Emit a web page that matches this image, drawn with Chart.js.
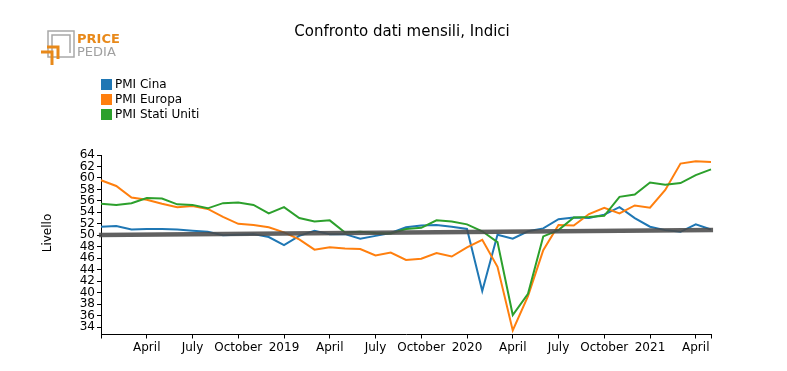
<!DOCTYPE html>
<html>
<head>
<meta charset="utf-8">
<script src="https://cdn.jsdelivr.net/npm/chart.js@4.4.1/dist/chart.umd.min.js"></script>
<style>
  html, body { margin: 0; padding: 0; background: #fff; }
  #wrap { width: 787px; height: 371px; position: relative; }
</style>
</head>
<body>
<div id="wrap"><canvas id="chart"></canvas></div>
<script>
// mesi da gennaio 2018 a maggio 2021
const mesi = [
  '2018-01','2018-02','2018-03','2018-04','2018-05','2018-06','2018-07','2018-08','2018-09','2018-10','2018-11','2018-12',
  '2019-01','2019-02','2019-03','2019-04','2019-05','2019-06','2019-07','2019-08','2019-09','2019-10','2019-11','2019-12',
  '2020-01','2020-02','2020-03','2020-04','2020-05','2020-06','2020-07','2020-08','2020-09','2020-10','2020-11','2020-12',
  '2021-01','2021-02','2021-03','2021-04','2021-05'
];

const pmiCina = [51.5, 51.6, 51.0, 51.1, 51.1, 51.0, 50.8, 50.6, 50.0, 50.1, 50.2, 49.7,
  48.3, 49.9, 50.8, 50.2, 50.2, 49.4, 49.9, 50.4, 51.4, 51.7, 51.8, 51.5,
  51.1, 40.3, 50.1, 49.4, 50.7, 51.2, 52.8, 53.1, 53.0, 53.6, 54.9, 53.0,
  51.5, 50.9, 50.6, 51.9, 51.0];

const pmiEuropa = [59.6, 58.6, 56.6, 56.2, 55.5, 54.9, 55.1, 54.6, 53.2, 52.0, 51.8, 51.4,
  50.5, 49.3, 47.5, 47.9, 47.7, 47.6, 46.5, 47.0, 45.7, 45.9, 46.9, 46.3,
  47.9, 49.2, 44.5, 33.4, 39.4, 47.4, 51.8, 51.7, 53.7, 54.8, 53.8, 55.2,
  54.8, 57.9, 62.5, 62.9, 62.8];

const pmiUsa = [55.5, 55.3, 55.6, 56.5, 56.4, 55.4, 55.3, 54.7, 55.6, 55.7, 55.3, 53.8,
  54.9, 53.0, 52.4, 52.6, 50.5, 50.6, 50.4, 50.3, 51.1, 51.3, 52.6, 52.4,
  51.9, 50.7, 48.8, 36.1, 39.8, 49.8, 50.9, 53.1, 53.2, 53.4, 56.7, 57.1,
  59.2, 58.8, 59.1, 60.5, 61.5];

// linea di tendenza: solo estremi
const trendInizio = 50.05;
const trendFine = 50.9;

const yTicks = [34, 36, 38, 40, 42, 44, 46, 48, 50, 52, 54, 56, 58, 60, 62, 64];
const nomiMesi = { '04': 'April', '07': 'July', '10': 'October' };

const serie = [
  { label: 'PMI Cina', data: pmiCina, color: '#1f77b4' },
  { label: 'PMI Europa', data: pmiEuropa, color: '#ff7f0e' },
  { label: 'PMI Stati Uniti', data: pmiUsa, color: '#2ca02c' }
];

const trendData = mesi.map((m, i) => i === 0 ? trendInizio : (i === mesi.length - 1 ? trendFine : null));

function isTick(i) {
  return i % 3 === 0 || i === mesi.length - 1;
}

Chart.defaults.font.family = "'DejaVu Sans', sans-serif";
Chart.defaults.font.size = 12;
Chart.defaults.color = '#000';

// titolo, logo, legenda e etichetta asse y
const decor = {
  id: 'decor',
  afterDraw(chart) {
    const ctx = chart.ctx;
    ctx.save();

    // titolo
    ctx.fillStyle = '#000';
    ctx.font = "15px 'DejaVu Sans'";
    ctx.textAlign = 'center';
    ctx.textBaseline = 'middle';
    ctx.fillText('Confronto dati mensili, Indici', 402, 32);

    // logo
    ctx.strokeStyle = '#a8a8a8';
    ctx.lineWidth = 1.5;
    ctx.strokeRect(48, 31, 26, 26);
    ctx.beginPath();
    ctx.moveTo(52, 57); ctx.lineTo(52, 35); ctx.lineTo(70, 35); ctx.lineTo(70, 53);
    ctx.stroke();
    ctx.strokeStyle = '#e8891a';
    ctx.lineWidth = 3;
    ctx.beginPath();
    ctx.moveTo(41, 52); ctx.lineTo(52, 52); ctx.lineTo(52, 65);
    ctx.moveTo(47, 47); ctx.lineTo(58, 47); ctx.lineTo(58, 59);
    ctx.stroke();
    ctx.textAlign = 'left';
    ctx.textBaseline = 'alphabetic';
    ctx.fillStyle = '#e8891a';
    ctx.font = "bold 13px 'DejaVu Sans'";
    ctx.fillText('PRICE', 77, 43);
    ctx.fillStyle = '#a0a0a0';
    ctx.font = "13px 'DejaVu Sans'";
    ctx.fillText('PEDIA', 77, 56);

    // legenda
    ctx.font = "12px 'DejaVu Sans'";
    ctx.textBaseline = 'middle';
    serie.forEach((s, i) => {
      const y = 85 + i * 15;
      ctx.fillStyle = s.color;
      ctx.fillRect(101, y - 6, 11, 11);
      ctx.fillStyle = '#000';
      ctx.fillText(s.label, 115, y);
    });

    // etichetta asse y
    ctx.translate(48, 233);
    ctx.rotate(-Math.PI / 2);
    ctx.textAlign = 'center';
    ctx.fillText('Livello', 0, 0);
    ctx.restore();
  }
};

const datasets = serie.map((s, i) => ({
  label: s.label,
  data: s.data,
  borderColor: s.color,
  backgroundColor: s.color,
  borderWidth: 2,
  pointRadius: 0,
  tension: 0,
  order: 3 - i
}));
datasets.push({
  label: 'Tendenza',
  data: trendData,
  borderColor: 'rgba(75, 75, 75, 0.88)',
  borderWidth: 4.5,
  pointRadius: 0,
  spanGaps: true,
  borderCapStyle: 'square',
  order: 0
});

new Chart(document.getElementById('chart'), {
  type: 'line',
  data: { labels: mesi, datasets: datasets },
  options: {
    responsive: true,
    maintainAspectRatio: false,
    animation: false,
    layout: { padding: { left: 0, right: 76, top: 155, bottom: 0 } },
    plugins: {
      legend: { display: false },
      title: { display: false },
      tooltip: { enabled: false }
    },
    scales: {
      x: {
        type: 'category',
        offset: false,
        border: { display: true, color: '#000', width: 1 },
        grid: {
          display: true,
          drawOnChartArea: false,
          drawTicks: true,
          tickLength: 4,
          color: ctx => isTick(ctx.index) ? '#000' : 'rgba(0,0,0,0)'
        },
        ticks: {
          autoSkip: false,
          maxRotation: 0,
          padding: 2,
          font: { size: 12 },
          callback: function (v, i) {
            const m = mesi[i];
            const mm = m.slice(5);
            if (i === 0) return '';
            if (mm === '01') return m.slice(0, 4);
            return nomiMesi[mm] || '';
          }
        },
        afterFit: s => { s.height = 36.5; }
      },
      y: {
        min: 32.7,
        max: 64,
        border: { display: true, color: '#000', width: 1 },
        grid: {
          display: true,
          drawOnChartArea: false,
          drawTicks: true,
          tickLength: 4,
          color: '#000'
        },
        ticks: { autoSkip: false, padding: 2, font: { size: 12 } },
        afterBuildTicks: s => { s.ticks = yTicks.map(v => ({ value: v })); },
        afterFit: s => { s.width = 101; }
      }
    }
  },
  plugins: [decor]
});
</script>
</body>
</html>
